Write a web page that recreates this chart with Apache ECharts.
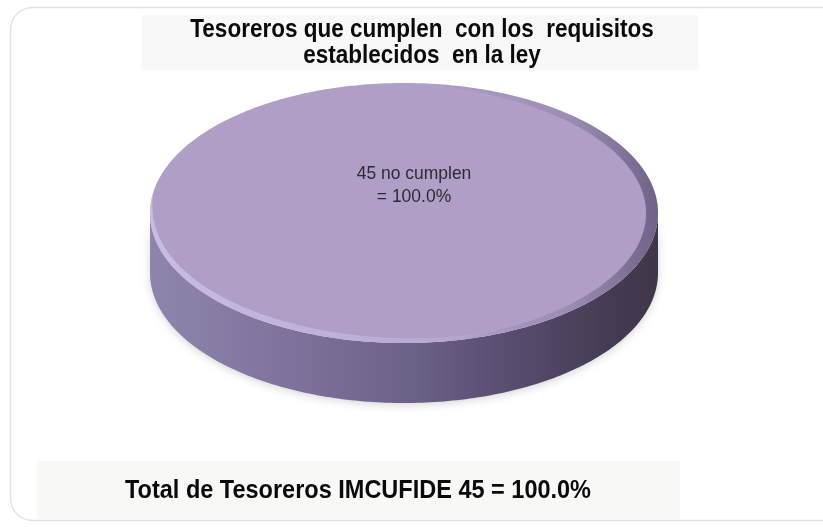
<!DOCTYPE html>
<html>
<head>
<meta charset="utf-8">
<script src="https://cdn.jsdelivr.net/npm/echarts@6/dist/echarts.min.js"></script>
<style>
html,body{margin:0;padding:0;background:#fff;}
#c{width:823px;height:527px;}
</style>
</head>
<body>
<div id="c"></div>
<script>
// ---- data ----
const titleLines = ['Tesoreros que cumplen  con los  requisitos', 'establecidos  en la ley'];
const categories = ['no cumplen'];
const values = [45];
const totalLabel = 'Total de Tesoreros IMCUFIDE';

const total = values.reduce((a, b) => a + b, 0);
const FONT = "'Liberation Sans', Arial, sans-serif";

const chart = echarts.init(document.getElementById('c'), null, { renderer: 'canvas' });

// geometry of the 3D pie (layout, not data)
const CX = 404, CY = 213, RX = 254, RY = 130, H = 60;

function ep(a, dy, rx, ry) {
  rx = rx || RX; ry = ry || RY;
  return [CX + rx * Math.cos(a), CY + ry * Math.sin(a) + (dy || 0)];
}
function arcPts(a0, a1, dy, rx, ry) {
  const pts = [];
  const n = Math.max(2, Math.ceil(Math.abs(a1 - a0) / (Math.PI / 180)));
  for (let k = 0; k <= n; k++) {
    pts.push(ep(a0 + (a1 - a0) * k / n, dy, rx, ry));
  }
  return pts;
}
// crescent band along the rim, tapering to zero width at both ends
function bandPts(a0, a1, w) {
  const n = Math.ceil(Math.abs(a1 - a0) / (Math.PI / 180));
  const outer = [], inner = [];
  for (let k = 0; k <= n; k++) {
    const t = k / n, a = a0 + (a1 - a0) * t;
    const ww = w * Math.pow(Math.sin(Math.PI * t), 0.7);
    outer.push(ep(a, 0));
    inner.push(ep(a, 0, RX - ww, RY - ww * 0.75));
  }
  return outer.concat(inner.reverse());
}

function renderItem(params, api) {
  const idx = params.dataIndex;
  let before = 0;
  for (let j = 0; j < idx; j++) before += values[j];
  const v = api.value(0);
  const start = -Math.PI / 2 + 2 * Math.PI * before / total;
  const end = start + 2 * Math.PI * v / total;
  const full = Math.abs(end - start - 2 * Math.PI) < 1e-6;
  const children = [];

  // front wall: visible part of [start,end] within [0,PI]
  const ranges = [];
  [[0, Math.PI], [2 * Math.PI, 3 * Math.PI], [-2 * Math.PI, -Math.PI]].forEach(r => {
    const a0 = Math.max(start, r[0]), a1 = Math.min(end, r[1]);
    if (a1 > a0) ranges.push([a0, a1]);
  });
  ranges.forEach(r => {
    const top = arcPts(r[0], r[1], 0);
    const bot = arcPts(r[0], r[1], H).reverse();
    children.push({
      type: 'polygon',
      shape: { points: top.concat(bot) },
      style: {
        fill: new echarts.graphic.LinearGradient(0, 0, 1, 0, [
          { offset: 0, color: '#8f85ac' },
          { offset: 0.25, color: '#80749e' },
          { offset: 0.5, color: '#6d6288' },
          { offset: 0.72, color: '#574c6e' },
          { offset: 0.88, color: '#463d56' },
          { offset: 1, color: '#3f364a' }
        ]),
        shadowBlur: 8,
        shadowColor: 'rgba(0,0,0,0.16)',
        shadowOffsetY: 2
      },
      z2: 1
    });
  });

  // top face
  let topPts = arcPts(start, end, 0);
  if (!full) topPts = [[CX, CY]].concat(topPts);
  children.push({
    type: 'polygon',
    shape: { points: topPts },
    style: { fill: '#af9fc7' },
    z2: 2
  });
  if (full) {
    // light bevel along front-left rim
    children.push({
      type: 'polygon',
      shape: { points: bandPts(Math.PI * 0.3, Math.PI * 1.05, 8) },
      style: {
        fill: new echarts.graphic.LinearGradient(0, 0, 1, 0, [
          { offset: 0, color: 'rgba(212,201,240,0.7)' },
          { offset: 0.5, color: 'rgba(206,194,236,0.45)' },
          { offset: 1, color: 'rgba(200,188,230,0)' }
        ])
      },
      z2: 3
    });
    // dark bevel along right rim
    children.push({
      type: 'polygon',
      shape: { points: bandPts(-Math.PI * 0.48, Math.PI * 0.45, 12) },
      style: {
        fill: new echarts.graphic.LinearGradient(0, 0, 1, 0, [
          { offset: 0, color: 'rgba(80,66,100,0)' },
          { offset: 0.6, color: 'rgba(80,66,100,0.18)' },
          { offset: 1, color: 'rgba(70,58,90,0.6)' }
        ])
      },
      z2: 3
    });
  }

  // label
  const mid = (start + end) / 2;
  const lp = full ? [CX + 10, CY - 28] : ep(mid, 0).map((c, k) => (c + (k ? CY : CX)) / 2);
  const pct = (v / total * 100).toFixed(1) + '%';
  children.push({
    type: 'text',
    x: lp[0], y: lp[1],
    scaleX: 0.92,
    style: {
      text: v + ' ' + categories[idx] + '\n= ' + pct,
      align: 'center',
      verticalAlign: 'middle',
      fontFamily: FONT,
      fontSize: 19,
      lineHeight: 23,
      fill: '#2e2a33'
    },
    z2: 5
  });

  return { type: 'group', children: children };
}

const totalText = totalLabel + ' ' + total + ' = ' + (100).toFixed(1) + '%';

chart.setOption({
  animation: false,
  backgroundColor: '#ffffff',
  graphic: [
    { type: 'rect', shape: { x: 10.5, y: 7.5, width: 840, height: 513, r: 22 },
      style: { fill: '#fff', stroke: '#e2e2e0', lineWidth: 1.5 }, z: -10 },
    { type: 'rect', shape: { x: 142, y: 15, width: 556, height: 55 },
      style: { fill: '#f8f8f8' }, z: -5 },
    { type: 'rect', shape: { x: 37, y: 461, width: 643, height: 58 },
      style: { fill: '#f8f8f7' }, z: -5 },
    { type: 'text', x: 422, y: 17, scaleX: 0.9,
      style: { text: titleLines.join('\n'), align: 'center', verticalAlign: 'top',
        fontFamily: FONT, fontWeight: 'bold', fontSize: 25, lineHeight: 26, fill: '#0a0a0a' } },
    { type: 'text', x: 358, y: 491, scaleX: 0.94,
      style: { text: totalText, align: 'center', verticalAlign: 'middle',
        fontFamily: FONT, fontWeight: 'bold', fontSize: 25, fill: '#0a0a0a' } }
  ],
  series: [{
    type: 'custom',
    coordinateSystem: 'none',
    renderItem: renderItem,
    data: values.map((v, i) => [v, i])
  }]
});
</script>
</body>
</html>
